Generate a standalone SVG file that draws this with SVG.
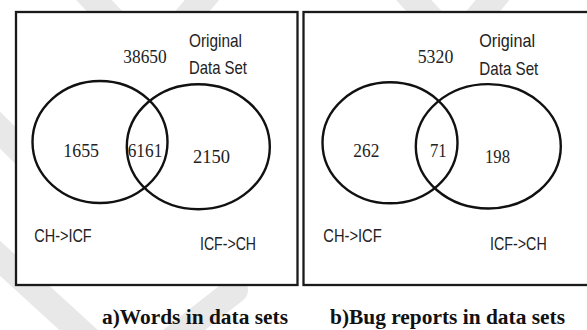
<svg xmlns="http://www.w3.org/2000/svg" width="587" height="330" viewBox="0 0 587 330">
  <style>
    .wm { stroke: #e8e8e8; stroke-width: 26; stroke-linecap: round; fill: none; }
    .box { fill: #ffffff; stroke: #1a1a1a; stroke-width: 2.3; }
    .set { fill: none; stroke: #111111; stroke-width: 2.4; }
    .num { font-family: "Liberation Serif", "Times New Roman", serif; font-size: 19px; fill: #222222; }
    .lbl { font-family: "Liberation Sans", Arial, sans-serif; font-size: 18.5px; fill: #222222; }
    .cap { font-family: "Liberation Serif", "Times New Roman", serif; font-size: 20px; font-weight: bold; fill: #111111; }
  </style>
  <rect x="0" y="0" width="587" height="330" fill="#ffffff"/>
  <g id="watermark">
    <line class="wm" x1="80" y1="-15" x2="150" y2="60"/>
    <line class="wm" x1="215" y1="-15" x2="150" y2="60"/>
    <line class="wm" x1="400" y1="-15" x2="455" y2="45"/>
    <line class="wm" x1="505" y1="-15" x2="455" y2="45"/>
    <line class="wm" x1="-20" y1="110" x2="40" y2="170"/>
    <line class="wm" x1="-20" y1="240" x2="95" y2="345"/>
    <line class="wm" x1="235" y1="290" x2="165" y2="345"/>
  </g>
  <g id="panel-a">
    <rect class="box" x="16" y="12" width="281.5" height="273"/>
  </g>
  <g id="panel-b">
    <rect class="box" x="303.5" y="12" width="290" height="273"/>
  </g>
  <g id="venn-a">
    <g id="a-ch-icf"><ellipse class="set" cx="100" cy="142" rx="67.5" ry="61"/></g>
    <g id="a-icf-ch"><ellipse class="set" cx="198.3" cy="146.7" rx="71.5" ry="62.5"/></g>
    <g id="a-labels">
      <text class="num" x="123.3" y="63.3" textLength="43.4" lengthAdjust="spacingAndGlyphs">38650</text>
      <text class="lbl" x="189" y="46.7" textLength="53" lengthAdjust="spacingAndGlyphs">Original</text>
      <text class="lbl" x="189" y="74" textLength="58" lengthAdjust="spacingAndGlyphs">Data Set</text>
      <text class="num" x="63.3" y="156.7" textLength="35.7" lengthAdjust="spacingAndGlyphs">1655</text>
      <text class="num" x="127.7" y="156.7" textLength="34.6" lengthAdjust="spacingAndGlyphs">6161</text>
      <text class="num" x="193" y="163.3" textLength="37" lengthAdjust="spacingAndGlyphs">2150</text>
      <text class="lbl" x="34.3" y="241.7" textLength="57.4" lengthAdjust="spacingAndGlyphs">CH-&gt;ICF</text>
      <text class="lbl" x="200" y="250" textLength="56" lengthAdjust="spacingAndGlyphs">ICF-&gt;CH</text>
    </g>
  </g>
  <g id="venn-b">
    <g id="b-ch-icf"><ellipse class="set" cx="390" cy="142.8" rx="67.5" ry="60.5"/></g>
    <g id="b-icf-ch"><ellipse class="set" cx="488.3" cy="146.3" rx="72.5" ry="62.2"/></g>
    <g id="b-labels">
      <text class="num" x="417.7" y="63.3" textLength="35.6" lengthAdjust="spacingAndGlyphs">5320</text>
      <text class="lbl" x="479.3" y="46.7" textLength="55.7" lengthAdjust="spacingAndGlyphs">Original</text>
      <text class="lbl" x="479.3" y="75" textLength="59" lengthAdjust="spacingAndGlyphs">Data Set</text>
      <text class="num" x="353.3" y="156.7" textLength="26" lengthAdjust="spacingAndGlyphs">262</text>
      <text class="num" x="430" y="156.7" textLength="16.7" lengthAdjust="spacingAndGlyphs">71</text>
      <text class="num" x="485" y="163.3" textLength="25" lengthAdjust="spacingAndGlyphs">198</text>
      <text class="lbl" x="323.3" y="241.7" textLength="58.4" lengthAdjust="spacingAndGlyphs">CH-&gt;ICF</text>
      <text class="lbl" x="490" y="250" textLength="56.7" lengthAdjust="spacingAndGlyphs">ICF-&gt;CH</text>
    </g>
  </g>
  <g id="captions">
    <text class="cap" x="102" y="324.3" textLength="186" lengthAdjust="spacingAndGlyphs">a)Words in data sets</text>
    <text class="cap" x="330" y="324.3" textLength="235" lengthAdjust="spacingAndGlyphs">b)Bug reports in data sets</text>
  </g>
</svg>
